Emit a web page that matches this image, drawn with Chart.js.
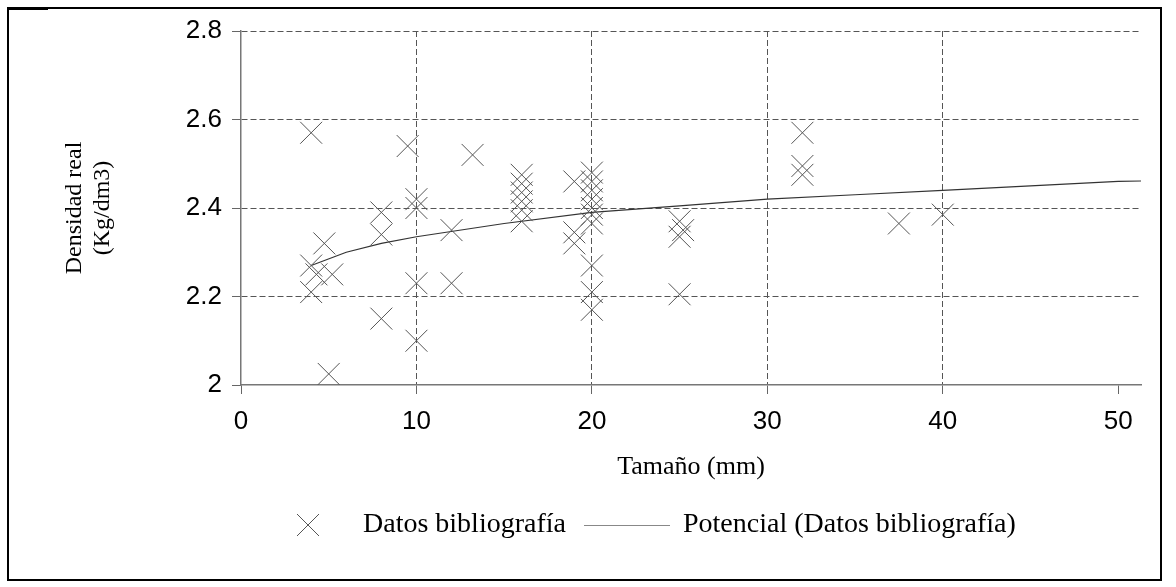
<!DOCTYPE html>
<html>
<head>
<meta charset="utf-8">
<script src="https://cdn.jsdelivr.net/npm/chart.js@4/dist/chart.umd.min.js"></script>
<style>
  html, body { margin: 0; padding: 0; background: #fff; }
  canvas { display: block; }
</style>
</head>
<body>
<canvas id="c" width="1176" height="587"></canvas>
<script>
// ---- Data ----
const sizeMm = [4, 9.5, 13.2, 10, 10, 8, 8, 4.75, 12, 4, 4.3, 5.2, 4, 10, 12, 8, 10, 5,
  16, 16, 16, 16, 16, 16,
  19, 19, 19,
  20, 20, 20, 20, 20, 20, 20, 20, 20, 20,
  25, 25.2, 25, 25,
  32, 32, 32,
  37.5, 40];
const density = [2.57, 2.54, 2.52, 2.42, 2.40, 2.39, 2.34, 2.32, 2.35, 2.27, 2.25, 2.25, 2.21, 2.23, 2.23, 2.15, 2.10, 2.025,
  2.475, 2.455, 2.435, 2.415, 2.395, 2.37,
  2.46, 2.345, 2.32,
  2.48, 2.46, 2.44, 2.42, 2.40, 2.385, 2.365, 2.27, 2.21, 2.17,
  2.37, 2.35, 2.335, 2.205,
  2.57, 2.495, 2.475,
  2.365, 2.385];
const trendX = [4, 6, 8, 10, 15, 20, 25, 30, 35, 40, 45, 50, 51.3];
const trendY = [2.27, 2.30, 2.32, 2.335, 2.365, 2.39, 2.405, 2.42, 2.43, 2.44, 2.45, 2.46, 2.461];
const xTicks = [0, 10, 20, 30, 40, 50];
const yTicks = [2, 2.2, 2.4, 2.6, 2.8];
const labelScatter = 'Datos bibliografía';
const labelTrend = 'Potencial (Datos bibliografía)';
const xTitle = 'Tamaño (mm)';
const yTitle = ['Densidad real', '(Kg/dm3)'];

const scatterPts = sizeMm.map((x, i) => ({x, y: density[i]}));
const trendPts = trendX.map((x, i) => ({x, y: trendY[i]}));

const SERIF = '"Liberation Serif", "Times New Roman", serif';
const SANS = '"Liberation Sans", Arial, sans-serif';

const frame = {
  id: 'frame',
  beforeDraw(chart) {
    const ctx = chart.ctx;
    ctx.save();
    ctx.fillStyle = '#fff';
    ctx.fillRect(0, 0, chart.width, chart.height);
    ctx.strokeStyle = '#000';
    ctx.lineWidth = 2;
    ctx.strokeRect(8, 8, 1153, 572);
    ctx.lineWidth = 3;
    ctx.beginPath();
    ctx.moveTo(7, 8.5);
    ctx.lineTo(48, 8.5);
    ctx.stroke();
    ctx.restore();
  }
};

const legendPlugin = {
  id: 'customLegend',
  afterDraw(chart) {
    const ctx = chart.ctx;
    const ds = chart.data.datasets;
    const y = 525;
    ctx.save();
    // scatter marker
    ctx.strokeStyle = ds[0].borderColor;
    ctx.lineWidth = 1;
    ctx.beginPath();
    ctx.moveTo(297, y - 11); ctx.lineTo(319, y + 11);
    ctx.moveTo(297, y + 11); ctx.lineTo(319, y - 11);
    ctx.stroke();
    ctx.font = '28px ' + SERIF;
    ctx.fillStyle = '#000';
    ctx.textBaseline = 'middle';
    ctx.textAlign = 'left';
    ctx.fillText(ds[0].label, 363, y);
    // trend line sample
    ctx.strokeStyle = '#888';
    ctx.lineWidth = 1;
    ctx.beginPath();
    ctx.moveTo(584, y + 0.5); ctx.lineTo(670, y + 0.5);
    ctx.stroke();
    ctx.fillText(ds[1].label, 683, y);
    ctx.restore();
  }
};

new Chart(document.getElementById('c'), {
  type: 'scatter',
  data: {
    datasets: [
      {
        label: labelScatter,
        data: scatterPts,
        pointStyle: 'crossRot',
        pointRadius: 15.5,
        pointHoverRadius: 15.5,
        borderColor: '#555',
        backgroundColor: '#555',
        pointBorderWidth: 1,
        showLine: false
      },
      {
        label: labelTrend,
        type: 'line',
        data: trendPts,
        borderColor: '#333',
        borderWidth: 1.2,
        pointRadius: 0,
        fill: false,
        tension: 0
      }
    ]
  },
  options: {
    responsive: false,
    animation: false,
    events: [],
    layout: { padding: { left: 50, top: 31, right: 35, bottom: 102 } },
    plugins: {
      legend: { display: false },
      tooltip: { enabled: false }
    },
    scales: {
      x: {
        type: 'linear',
        min: 0,
        max: 51.3,
        afterBuildTicks: (s) => { s.ticks = xTicks.map(v => ({value: v})); },
        afterFit: (s) => { s.height = 100; },
        ticks: {
          font: { family: SANS, size: 26 },
          color: '#000',
          padding: 12,
          maxRotation: 0,
          autoSkip: false
        },
        grid: {
          color: (c) => (c.tick && (c.tick.value === 0 || c.tick.value === 50)) ? 'rgba(0,0,0,0)' : '#555',
          lineWidth: 1,
          tickLength: 9,
          tickColor: '#666',
          tickBorderDash: []
        },
        border: { display: true, color: '#777', width: 1.5, dash: [6, 3] },
        title: {
          display: true,
          text: xTitle,
          font: { family: SERIF, size: 26 },
          color: '#000',
          padding: { top: 0, bottom: 2 }
        }
      },
      y: {
        type: 'linear',
        min: 2,
        max: 2.8,
        afterBuildTicks: (s) => { s.ticks = yTicks.map(v => ({value: v})); },
        afterFit: (s) => { s.width = 191; },
        ticks: {
          font: { family: SANS, size: 26 },
          color: '#000',
          padding: 10,
          callback: (v) => String(Math.round(v * 10) / 10)
        },
        grid: {
          color: (c) => (c.tick && c.tick.value === 2) ? 'rgba(0,0,0,0)' : '#555',
          lineWidth: 1,
          tickLength: 9,
          tickColor: '#666',
          tickBorderDash: []
        },
        border: { display: true, color: '#777', width: 1.5, dash: [6, 3] },
        title: {
          display: true,
          text: yTitle,
          font: { family: SERIF, size: 24, lineHeight: 1.15 },
          color: '#000',
          padding: { top: 11, bottom: 0 }
        }
      }
    }
  },
  plugins: [frame, legendPlugin]
});
</script>
</body>
</html>
